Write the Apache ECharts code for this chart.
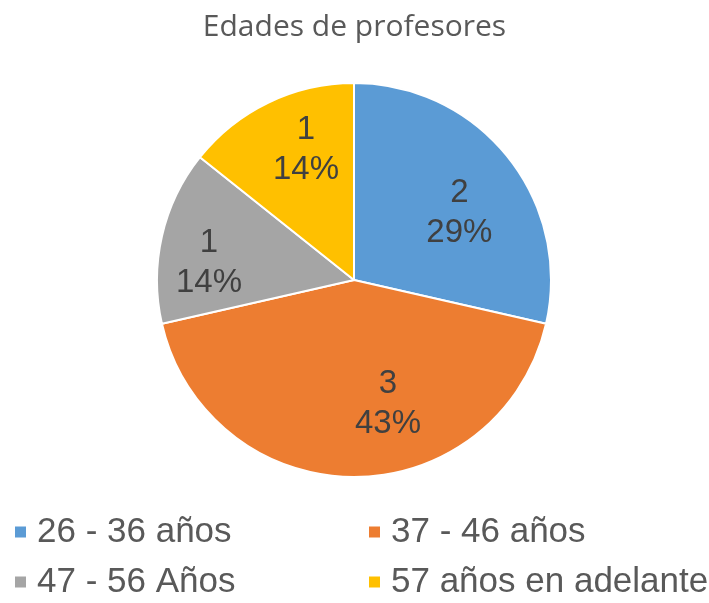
<!DOCTYPE html>
<html>
<head>
<meta charset="utf-8">
<script src="https://cdn.jsdelivr.net/npm/echarts@6/dist/echarts.min.js"></script>
<style>
html,body{margin:0;padding:0;background:#fff;}
#chart{width:709px;height:603px;}
</style>
</head>
<body>
<div id="chart"></div>
<script>
const titleText = 'Edades de profesores';
const categories = ['26 - 36 años', '37 - 46 años', '47 - 56 Años', '57 años en adelante'];
const values = [2, 3, 1, 1];
const colors = ['#5B9BD5', '#ED7D31', '#A5A5A5', '#FFC000'];
// label nudges (px) to mimic the original best-fit placement
const labelNudge = [[26, -4], [34, 22], [-46, 5], [-4, -39]];
// legend grid: [left, top] per category
const legendSlots = [[13, 512], [367, 512], [13, 562], [367, 562]];

const chart = echarts.init(document.getElementById('chart'), null, {renderer: 'canvas'});
const legendText = {
  fontFamily: 'Liberation Sans, Arial, sans-serif',
  fontSize: 35,
  color: '#595959',
  lineHeight: 40,
  padding: [0, 0, 0, 5]
};
chart.setOption({
  animation: false,
  title: {
    text: titleText,
    left: 'center',
    top: 7,
    textStyle: {fontFamily: 'Open Sans, sans-serif', fontWeight: 'normal', fontSize: 30, color: '#595959'}
  },
  legend: categories.map((c, i) => ({
    data: [c],
    orient: 'horizontal',
    left: legendSlots[i][0],
    top: legendSlots[i][1],
    padding: 0,
    icon: 'rect', itemWidth: 13, itemHeight: 13,
    textStyle: legendText,
    selectedMode: false
  })),
  series: [{
    type: 'pie',
    center: [354, 280],
    radius: 197,
    startAngle: 90,
    clockwise: true,
    percentPrecision: 0,
    color: colors,
    itemStyle: {borderColor: '#ffffff', borderWidth: 2},
    emphasis: {disabled: true},
    label: {
      show: true,
      position: 'inside',
      formatter: '{c}\n{d}%',
      fontFamily: 'Liberation Sans, Arial, sans-serif',
      fontSize: 33,
      lineHeight: 40,
      color: '#404040'
    },
    labelLine: {show: false},
    labelLayout: function (p) {
      const n = labelNudge[p.dataIndex];
      return {dx: n[0], dy: n[1]};
    },
    data: categories.map((c, i) => ({name: c, value: values[i]}))
  }]
});
</script>
</body>
</html>
